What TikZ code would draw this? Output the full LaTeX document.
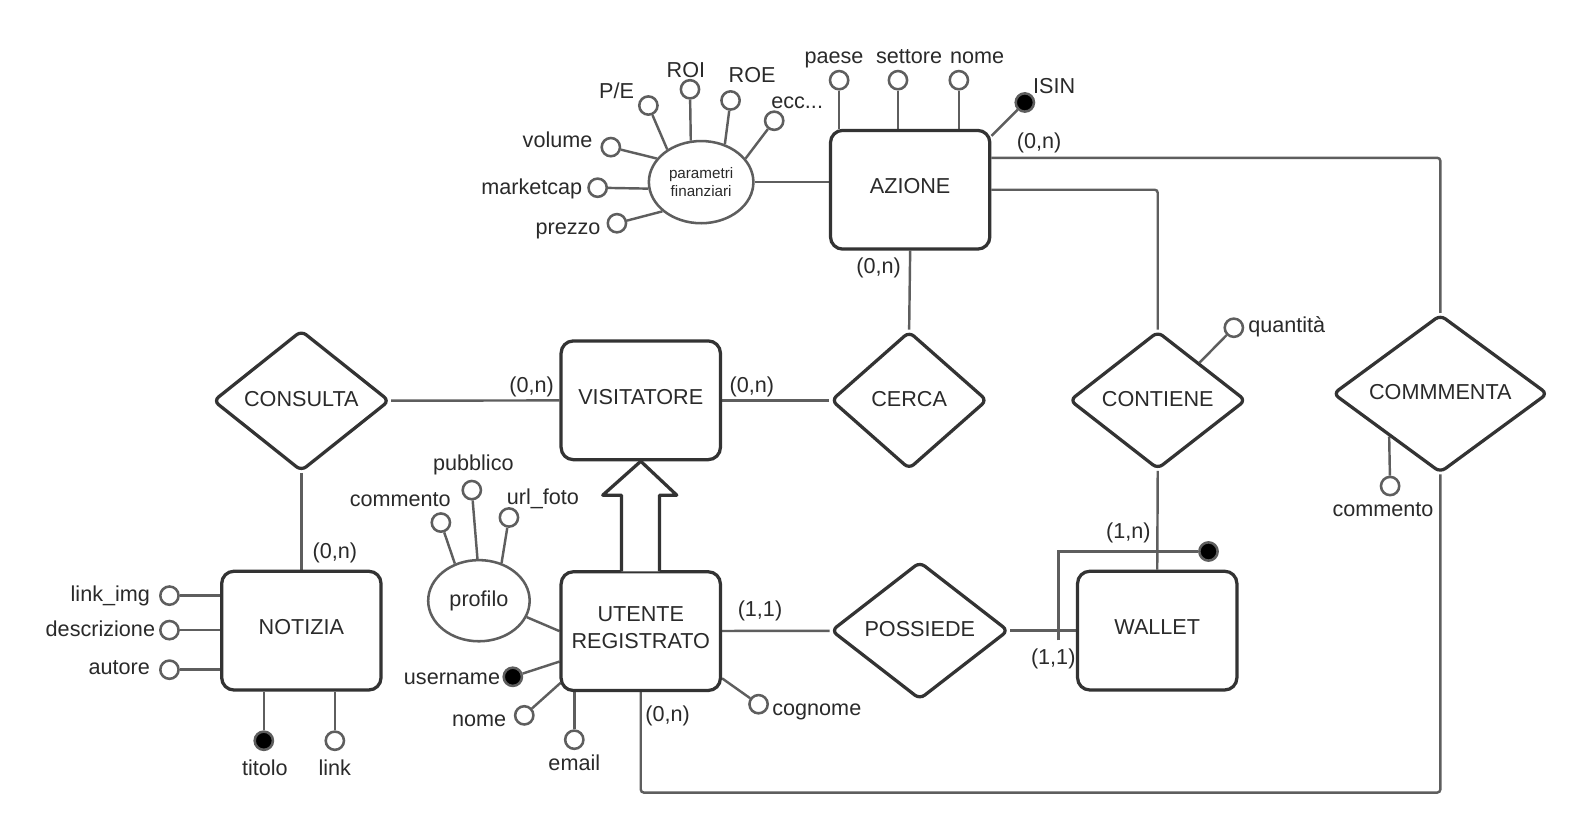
\documentclass[tikz,border=0pt]{standalone}
\usepackage{fontspec}
\setmainfont{Liberation Sans}
\usetikzlibrary{shapes.geometric,backgrounds}
\definecolor{bord}{HTML}{333333}
\definecolor{conn}{HTML}{5E5E5E}
\definecolor{txt}{HTML}{2A2A2A}
\begin{document}
\begin{tikzpicture}[x=1pt,y=-1pt,
  every node/.style={text=txt,font=\fontsize{21.3}{26}\selectfont},
  ent/.style={draw=bord,line width=3.2pt,rounded corners=12pt,fill=white,
    minimum width=157pt,minimum height=117pt,inner sep=0pt,text depth=7pt,align=center},
  rel/.style={diamond,draw=bord,line width=3.2pt,rounded corners=6pt,fill=white,
    inner sep=0pt,aspect=1.3,text depth=3pt},
  ell/.style={ellipse,draw=conn,line width=2.5pt,fill=white,inner sep=0pt,align=center},
  att/.style={circle,draw=conn,line width=2.5pt,fill=white,minimum size=18pt,inner sep=0pt},
  key/.style={att,fill=black},
  wire/.style={draw=conn,line width=2.4pt},
  lab/.style={inner sep=0pt,text height=14pt,text depth=0pt},
  sml/.style={font=\fontsize{15}{18.5}\selectfont},
  gen/.style={draw=bord,line width=3.2pt,fill=white,line join=round}
]
\useasboundingbox (0,0) rectangle (1568,823);

% entities
\node[ent] (az) at (897,187) {AZIONE};
\node[ent] (vis) at (631.5,394.5) {VISITATORE};
\node[ent] (not) at (297,621.5) {NOTIZIA};
\node[ent] (ut) at (631.5,622) {UTENTE\\REGISTRATO};
\node[ent] (wal) at (1140.5,621.5) {WALLET};

% relationships
\node[rel,minimum width=174pt,minimum height=139pt] (cons) at (297,395) {CONSULTA};
\node[rel,minimum width=154pt,minimum height=136pt] (cer) at (896,394.5) {CERCA};
\node[rel,minimum width=174pt,minimum height=136pt] (cont) at (1141,394.5) {CONTIENE};
\node[rel,minimum width=212pt,minimum height=156pt] (comm) at (1419.5,388) {COMMMENTA};
\node[rel,minimum width=175pt,minimum height=136pt] (pos) at (906.5,621.5) {POSSIEDE};

% composite attributes
\node[ell,sml,minimum width=103pt,minimum height=81pt] (pf) at (691,179.5) {parametri\\finanziari};
\node[ell,minimum width=100pt,minimum height=80pt] (prof) at (472,592) {profilo};

% attributes of AZIONE
\node[att] (paese) at (827,79) {};
\node[att] (settore) at (885,79) {};
\node[att] (nomeA) at (945,79) {};
\node[key] (isin) at (1010,101) {};
\node[lab] (paeseL) at (822,56) {paese};
\node[lab] (settoreL) at (896,56) {settore};
\node[lab] (nomeAL) at (963,56) {nome};
\node[lab,anchor=west] (isinL) at (1018,85) {ISIN};

% attributes of parametri finanziari
\node[att] (volume) at (602,145) {};
\node[att] (mcap) at (589,185) {};
\node[att] (prezzo) at (608,220) {};
\node[att] (pe) at (639,104) {};
\node[att] (roi) at (680,88) {};
\node[att] (roe) at (720,99) {};
\node[att] (ecc) at (763,119) {};
\node[lab,anchor=east] (volumeL) at (584,138) {volume};
\node[lab,anchor=east] (mcapL) at (574,185) {marketcap};
\node[lab,anchor=east] (prezzoL) at (592,224) {prezzo};
\node[lab,anchor=east] (peL) at (625,90) {P/E};
\node[lab] (roiL) at (676,69) {ROI};
\node[lab,anchor=west] (roeL) at (718,74) {ROE};
\node[lab,anchor=west] (eccL) at (760,100) {ecc...};

% attributes of NOTIZIA
\node[att] (limg) at (167,587) {};
\node[att] (descr) at (167,621) {};
\node[att] (autore) at (167,660) {};
\node[key] (titolo) at (260,730) {};
\node[att] (link) at (330,730) {};
\node[lab,anchor=east] (limgL) at (148,586) {link\_img};
\node[lab,anchor=east] (descrL) at (153,620) {descrizione};
\node[lab,anchor=east] (autoreL) at (148,658) {autore};
\node[lab] (titoloL) at (261,757) {titolo};
\node[lab] (linkL) at (330,757) {link};

% attributes of profilo
\node[att] (pcomm) at (434.5,515) {};
\node[att] (pubb) at (465,483) {};
\node[att] (url) at (501.6,510) {};
\node[lab] (pcommL) at (394.5,492) {commento};
\node[lab] (pubbL) at (466.5,457) {pubblico};
\node[lab] (urlL) at (535,490) {url\_foto};

% attributes of UTENTE REGISTRATO
\node[key] (user) at (505.4,667) {};
\node[att] (nomeU) at (516.7,705) {};
\node[att] (email) at (566,729) {};
\node[att] (cogn) at (747.6,694) {};
\node[lab,anchor=east] (userL) at (493,668) {username};
\node[lab,anchor=east] (nomeUL) at (499,708.6) {nome};
\node[lab] (emailL) at (566,752) {email};
\node[lab,anchor=west] (cognL) at (761,698) {cognome};

% attributes of relationships
\node[att] (quant) at (1216,323) {};
\node[lab,anchor=west] (quantL) at (1230,321) {quantità};
\node[att] (ccomm) at (1370,479) {};
\node[lab] (ccommL) at (1363,502) {commento};

% identifier of WALLET
\node[key] (walkey) at (1191,543.5) {};
\coordinate (widE) at (1043,631);

% cardinalities
\node[lab] (c1) at (1024,139) {(0,n)};
\node[lab] (c2) at (866,263) {(0,n)};
\node[lab] (c3) at (524,380) {(0,n)};
\node[lab] (c4) at (741,380) {(0,n)};
\node[lab] (c5) at (330,543) {(0,n)};
\node[lab] (c6) at (1112,524) {(1,n)};
\node[lab] (c7) at (749,601) {(1,1)};
\node[lab] (c8) at (1038,648) {(1,1)};
\node[lab] (c9) at (658,704) {(0,n)};

% generalisation arrow
\coordinate (g1) at (612.5,563);
\coordinate (g2) at (612.5,488);
\coordinate (g3) at (594,488);
\coordinate (g5) at (667,488);
\coordinate (g6) at (650,488);
\coordinate (g7) at (650,563);
\draw[gen] (g1) -- (g2) -- (g3) -- (vis.south) -- (g5) -- (g6) -- (g7);

\begin{pgfonlayer}{background}
\fill[white] (0,0) rectangle (1568,823);
% relationship connectors
\draw[wire] (cons) -- (vis);
\draw[wire] (vis) -- (cer);
\draw[wire] (az.south) -- (cer.north);
\draw[wire] (cons.south) -- (not.north);
\draw[wire,rounded corners=3pt] (az.east) -| (cont.north);
\draw[wire,rounded corners=3pt] ([yshift=31.5pt]az.east) -| (comm.north);
\draw[wire] (cont.south) -- (wal.north);
\draw[wire] (ut) -- (pos);
\draw[wire] (pos) -- (wal);
\draw[wire,rounded corners=3pt] (comm.south) |- ([yshift=-99pt]ut.south) -- (ut.south);
\draw[wire] (pf.east) -- (pf.east -| az.west);
% AZIONE attributes
\draw[wire] (paese) -- (paese |- az.north);
\draw[wire] (settore) -- (settore |- az.north);
\draw[wire] (nomeA) -- (nomeA |- az.north);
\draw[wire] (isin) -- ([yshift=-7pt]az.north east);
% parametri finanziari attributes
\draw[wire] (volume) -- (pf.152);
\draw[wire] (mcap) -- (pf.187);
\draw[wire] (prezzo) -- (pf.217);
\draw[wire] (pe) -- (pf.136);
\draw[wire] (roi) -- (pf.104);
\draw[wire] (roe) -- (pf.58);
\draw[wire] (ecc) -- (pf.28);
% NOTIZIA attributes
\draw[wire] (limg) -- (limg -| not.west);
\draw[wire] (descr) -- (descr -| not.west);
\draw[wire] (autore) -- (autore -| not.west);
\draw[wire] (titolo) -- (titolo |- not.south);
\draw[wire] (link) -- (link |- not.south);
% profilo
\draw[wire] (pcomm) -- (prof.123);
\draw[wire] (pubb) -- (prof.92);
\draw[wire] (url) -- (prof.59);
\draw[wire] (prof.341) -- (ut.west);
% UTENTE attributes
\draw[wire] ([yshift=-30pt]ut.west) -- (user);
\draw[wire] ([shift={(1pt,-51pt)}]ut.west) -- (nomeU);
\draw[wire] (email) -- (email |- ut.south);
\draw[wire] ([yshift=-46.5pt]ut.east) -- (cogn);
% relationship attributes
\draw[wire] (cont.42) -- (quant);
\draw[wire] (comm.220) -- (ccomm);
% WALLET identifier
\draw[wire] (widE) |- (walkey);
\end{pgfonlayer}
\end{tikzpicture}
\end{document}
